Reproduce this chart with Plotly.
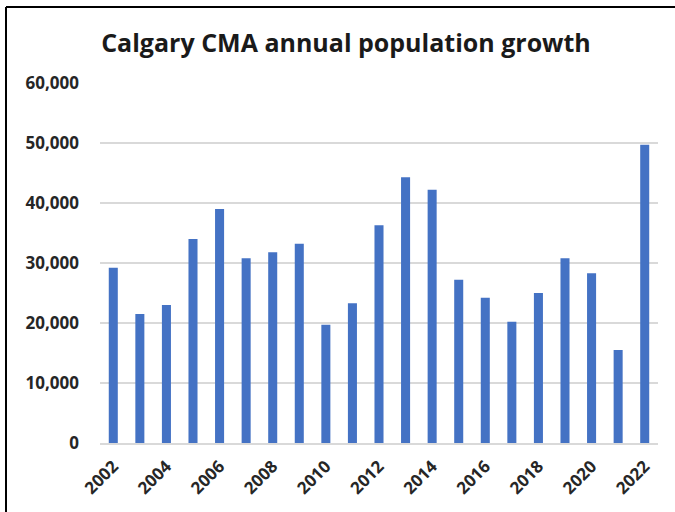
import plotly.graph_objects as go

# Annual population growth, Calgary CMA
years = [str(y) for y in range(2002, 2023)]
growth = [29200, 21500, 23000, 34000, 39000, 30800, 31800, 33200, 19700, 23300,
          36300, 44300, 42200, 27200, 24200, 20200, 25000, 30800, 28300, 15500, 49700]
tick_years = [str(y) for y in range(2002, 2023, 2)]
y_ticks = [0, 10000, 20000, 30000, 40000, 50000, 60000]

W, H = 675, 512
L, R, T, B = 100, 17, 83, 69
pw, ph = W - L - R, H - T - B

def px_x(x):
    return (x - L) / pw

def px_y(y):
    return (H - B - y) / ph

fig = go.Figure(go.Bar(
    x=years, y=growth,
    marker=dict(color="#4472c4", line=dict(width=0)),
    hoverinfo="x+y",
))

y_font = dict(family="Open Sans, Arial, sans-serif", size=17, color="#262626")
x_font = dict(family="Open Sans, Arial, sans-serif", size=17, color="#262626")

fig.update_layout(
    width=W, height=H,
    margin=dict(l=L, r=R, t=T, b=B),
    paper_bgcolor="white", plot_bgcolor="white",
    bargap=0.66,
    showlegend=False,
    title=dict(text="<b>Calgary CMA annual population growth</b>",
               x=346 / W, xanchor="center", xref="container",
               y=1 - 43 / H, yanchor="middle",
               font=dict(family="Open Sans, Arial, sans-serif", size=25, color="#1a1a1a")),
    xaxis=dict(
        type="category",
        tickmode="array", tickvals=tick_years, ticktext=[f"<b>{t}</b>" for t in tick_years],
        tickangle=-45, tickfont=x_font,
        showgrid=False, showline=True, linecolor="#d9d9d9", linewidth=1.5,
        ticks="", ticklen=0, ticklabelstandoff=5,
    ),
    yaxis=dict(
        range=[0, 60000], tickvals=y_ticks,
        ticktext=[f"<b>{v:,}</b>" for v in y_ticks],
        tickfont=y_font,
        showgrid=True, gridcolor="#d9d9d9", gridwidth=1.5,
        zeroline=False, showline=False, ticks="", ticklabelstandoff=20,
    ),
    shapes=[
        dict(type="line", xref="paper", yref="paper",
             x0=px_x(6), x1=px_x(6), y0=px_y(7), y1=px_y(H + 5),
             line=dict(color="black", width=2)),
        dict(type="line", xref="paper", yref="paper",
             x0=px_x(6), x1=px_x(W + 5), y0=px_y(7), y1=px_y(7),
             line=dict(color="black", width=2)),
    ],
)

fig.write_html("out.html")
